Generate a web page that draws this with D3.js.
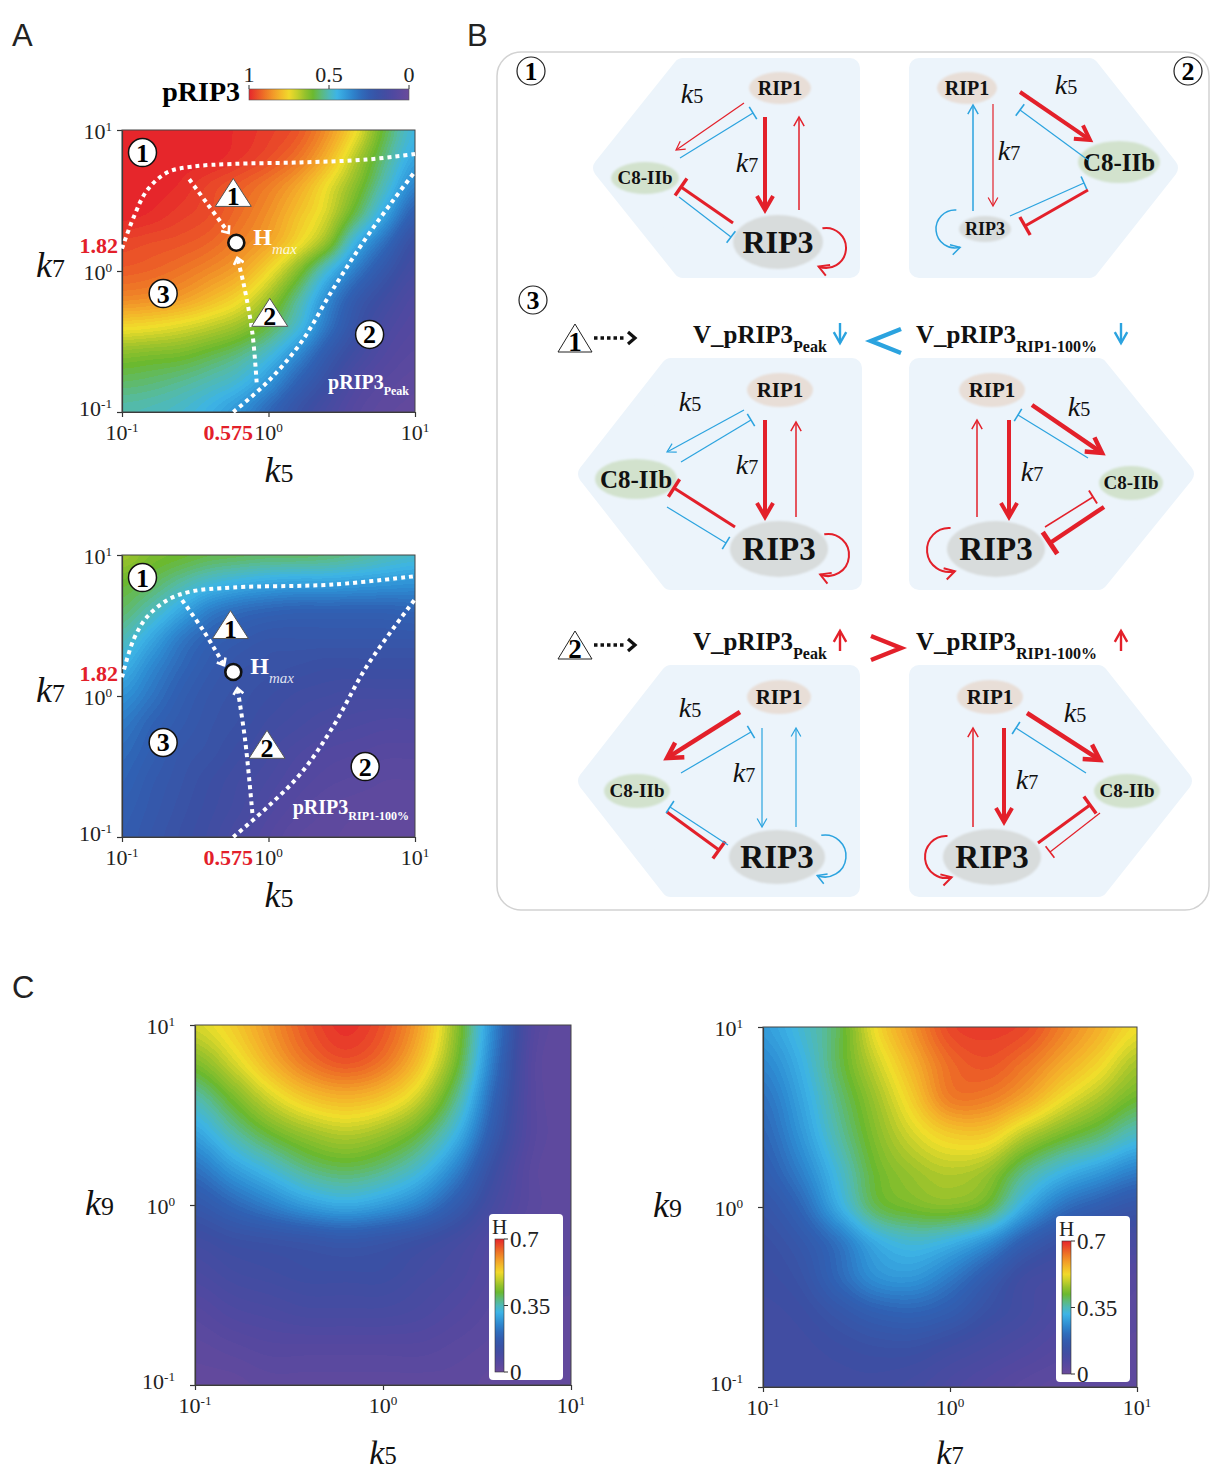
<!DOCTYPE html>
<html>
<head>
<meta charset="utf-8">
<script src="https://cdn.jsdelivr.net/npm/d3@7/dist/d3.min.js"></script>
<style>
body { margin: 0; background: #fff; }
svg { display: block; }
text { font-family: "Liberation Serif", "Times New Roman", serif; }
</style>
</head>
<body>
<svg id="fig" width="1211" height="1474"></svg>
<script>
// ---------------- data ----------------
// sample positions of every heat-map grid (both axes, log spaced 0.1 .. 10)
const gridK = [0.1, 0.158, 0.251, 0.398, 0.631, 1, 1.585, 2.512, 3.981, 6.31, 10];
const axisTicks = [0.1, 1, 10];

// A top: pRIP3 peak. rows k7 = 10 -> 0.1, columns k5 = 0.1 -> 10
const peakGrid = [
  [1.00, 1.00, 1.00, 1.00, 0.99, 0.97, 0.94, 0.86, 0.74, 0.58, 0.46],
  [1.00, 1.00, 1.00, 1.00, 0.98, 0.95, 0.90, 0.81, 0.68, 0.54, 0.42],
  [1.00, 1.00, 0.99, 0.96, 0.93, 0.89, 0.83, 0.74, 0.63, 0.49, 0.35],
  [1.00, 0.99, 0.97, 0.95, 0.91, 0.86, 0.79, 0.71, 0.57, 0.41, 0.26],
  [0.96, 0.95, 0.94, 0.92, 0.88, 0.83, 0.75, 0.64, 0.44, 0.30, 0.18],
  [0.93, 0.92, 0.90, 0.87, 0.83, 0.75, 0.63, 0.47, 0.33, 0.22, 0.14],
  [0.87, 0.86, 0.84, 0.80, 0.75, 0.66, 0.53, 0.37, 0.24, 0.16, 0.10],
  [0.75, 0.74, 0.72, 0.69, 0.65, 0.58, 0.47, 0.32, 0.20, 0.12, 0.08],
  [0.63, 0.62, 0.61, 0.58, 0.54, 0.47, 0.36, 0.24, 0.15, 0.09, 0.06],
  [0.56, 0.55, 0.53, 0.50, 0.46, 0.38, 0.27, 0.18, 0.10, 0.06, 0.04],
  [0.51, 0.50, 0.48, 0.44, 0.38, 0.29, 0.20, 0.13, 0.07, 0.04, 0.03]
];
// A bottom: pRIP3 at RIP1-100%
const rip1Grid = [
  [0.66, 0.62, 0.60, 0.58, 0.57, 0.56, 0.56, 0.55, 0.53, 0.50, 0.48],
  [0.60, 0.57, 0.52, 0.47, 0.44, 0.42, 0.41, 0.41, 0.40, 0.39, 0.38],
  [0.56, 0.50, 0.42, 0.34, 0.30, 0.28, 0.27, 0.27, 0.27, 0.27, 0.28],
  [0.50, 0.42, 0.33, 0.27, 0.24, 0.22, 0.22, 0.22, 0.22, 0.22, 0.22],
  [0.44, 0.36, 0.29, 0.24, 0.21, 0.20, 0.19, 0.18, 0.18, 0.18, 0.18],
  [0.38, 0.32, 0.26, 0.22, 0.20, 0.18, 0.16, 0.15, 0.14, 0.14, 0.14],
  [0.33, 0.28, 0.24, 0.21, 0.19, 0.16, 0.14, 0.12, 0.11, 0.10, 0.10],
  [0.30, 0.26, 0.22, 0.20, 0.17, 0.14, 0.11, 0.09, 0.08, 0.07, 0.07],
  [0.28, 0.24, 0.21, 0.18, 0.15, 0.12, 0.09, 0.07, 0.06, 0.05, 0.05],
  [0.26, 0.23, 0.20, 0.17, 0.14, 0.10, 0.07, 0.05, 0.04, 0.04, 0.04],
  [0.25, 0.22, 0.19, 0.16, 0.12, 0.08, 0.05, 0.04, 0.03, 0.03, 0.03]
];
// C left: H over (k5, k9). rows k9 = 10 -> 0.1
const hK5Grid = [
  [0.50, 0.54, 0.60, 0.66, 0.69, 0.66, 0.58, 0.44, 0.24, 0.06, 0.03],
  [0.44, 0.50, 0.57, 0.63, 0.66, 0.63, 0.55, 0.42, 0.22, 0.05, 0.03],
  [0.36, 0.43, 0.50, 0.55, 0.57, 0.55, 0.49, 0.37, 0.19, 0.05, 0.03],
  [0.29, 0.36, 0.42, 0.46, 0.48, 0.46, 0.41, 0.31, 0.16, 0.05, 0.03],
  [0.22, 0.28, 0.33, 0.38, 0.40, 0.38, 0.33, 0.24, 0.12, 0.04, 0.03],
  [0.16, 0.20, 0.24, 0.28, 0.30, 0.28, 0.24, 0.17, 0.09, 0.04, 0.03],
  [0.11, 0.13, 0.14, 0.15, 0.16, 0.15, 0.13, 0.10, 0.06, 0.03, 0.03],
  [0.08, 0.10, 0.11, 0.12, 0.12, 0.12, 0.10, 0.08, 0.05, 0.03, 0.03],
  [0.05, 0.07, 0.08, 0.09, 0.09, 0.09, 0.08, 0.06, 0.04, 0.03, 0.02],
  [0.03, 0.04, 0.05, 0.05, 0.05, 0.05, 0.05, 0.04, 0.03, 0.02, 0.02],
  [0.02, 0.02, 0.03, 0.03, 0.03, 0.03, 0.03, 0.03, 0.02, 0.02, 0.02]
];
// C right: H over (k7, k9)
const hK7Grid = [
  [0.28, 0.33, 0.40, 0.52, 0.60, 0.67, 0.68, 0.67, 0.62, 0.57, 0.52],
  [0.25, 0.31, 0.40, 0.49, 0.57, 0.64, 0.66, 0.63, 0.58, 0.53, 0.47],
  [0.22, 0.29, 0.38, 0.46, 0.54, 0.62, 0.62, 0.58, 0.52, 0.47, 0.42],
  [0.20, 0.27, 0.36, 0.44, 0.50, 0.54, 0.54, 0.48, 0.43, 0.39, 0.34],
  [0.18, 0.24, 0.33, 0.42, 0.46, 0.48, 0.46, 0.38, 0.32, 0.28, 0.24],
  [0.15, 0.20, 0.30, 0.40, 0.43, 0.44, 0.41, 0.30, 0.22, 0.18, 0.15],
  [0.13, 0.16, 0.22, 0.30, 0.33, 0.31, 0.26, 0.18, 0.13, 0.10, 0.09],
  [0.12, 0.14, 0.20, 0.26, 0.27, 0.23, 0.17, 0.11, 0.09, 0.07, 0.05],
  [0.11, 0.12, 0.15, 0.18, 0.19, 0.17, 0.13, 0.10, 0.07, 0.05, 0.04],
  [0.11, 0.11, 0.12, 0.13, 0.13, 0.11, 0.09, 0.07, 0.05, 0.04, 0.03],
  [0.11, 0.11, 0.11, 0.11, 0.10, 0.08, 0.06, 0.04, 0.03, 0.03, 0.03]
];

const pripTicks = [1, 0.5, 0];
const hTicks = [0.7, 0.35, 0];

// A overlays, points as [k5, k7]
const peakBound1 = [[0.1, 1.44], [0.12, 2.4], [0.148, 3.72], [0.204, 5.01], [0.302, 5.5], [0.575, 5.75], [1.66, 5.89], [4.68, 6.17], [10, 6.76]];
const peakBound2 = [[0.575, 0.1], [0.977, 0.162], [1.66, 0.309], [2.75, 0.741], [4.68, 1.74], [7.08, 3.16], [9.9, 5.01]];
const peakPath1 = [[0.288, 4.47], [0.38, 3.02], [0.525, 1.91]];
const peakPath2 = [[0.83, 0.162], [0.776, 0.363], [0.676, 0.813], [0.617, 1.2]];
const peakHmax = [0.603, 1.585];
const peakMarks = [["c", "1", 0.138, 6.92], ["c", "3", 0.191, 0.692], ["c", "2", 4.9, 0.355], ["t", "1", 0.575, 3.55], ["t", "2", 1.02, 0.501]];

const rip1Bound1 = [[0.1, 1.36], [0.12, 2.51], [0.148, 3.63], [0.204, 4.79], [0.295, 5.5], [0.575, 5.89], [2.75, 6.17], [10, 7.08]];
const rip1Bound2 = [[0.575, 0.1], [0.977, 0.162], [1.66, 0.282], [2.75, 0.603], [4.68, 1.62], [9.9, 4.79]];
const rip1Path1 = [[0.257, 4.79], [0.36, 2.9], [0.49, 1.7]];
const rip1Path2 = [[0.776, 0.148], [0.692, 0.49], [0.617, 1.1]];
const rip1Hmax = [0.575, 1.48];
const rip1Marks = [["c", "1", 0.138, 6.92], ["c", "3", 0.191, 0.468], ["c", "2", 4.57, 0.316], ["t", "1", 0.55, 3.16], ["t", "2", 0.977, 0.447]];

// ---------------- style ----------------
const RED = "#e3202a", BLUE = "#2ba3df";
const cmapStops = [0, 0.08, 0.18, 0.28, 0.37, 0.45, 0.52, 0.6, 0.67, 0.74, 0.82, 0.9, 1];
const cmapColors = ["#6a4a9b", "#5448a0", "#3b4fa3", "#2f62b4", "#2e8dd3", "#3db4e6", "#55bba5", "#6bb92f", "#a6c52b", "#f0df2b", "#f4ae2a", "#ee7526", "#e6262b"];
const cmap = d3.scaleLinear().domain(cmapStops).range(cmapColors).clamp(true);

const svg = d3.select("#fig");
const defs = svg.append("defs");
defs.append("filter").attr("id", "soft").append("feGaussianBlur").attr("stdDeviation", 1.3);

// panel letters
[["A", 12, 46], ["B", 467, 46], ["C", 12, 998]].forEach(([s, x, y]) =>
  svg.append("text").attr("x", x).attr("y", y).text(s).style("font-family", "Liberation Sans, Arial, sans-serif")
    .attr("font-size", 31).attr("fill", "#222"));

// ---------------- heat maps ----------------
function cubic(p0, p1, p2, p3, t) {
  return 0.5 * (2 * p1 + (-p0 + p2) * t + (2 * p0 - 5 * p1 + 4 * p2 - p3) * t * t + (-p0 + 3 * p1 - 3 * p2 + p3) * t * t * t);
}

function heat(g, grid, x, y, vmax) {
  const x0 = x.range()[0], y0 = y.range()[1];
  const w = Math.round(x.range()[1] - x0), h = Math.round(y.range()[0] - y0);
  const n = gridK.length - 1;
  const gi = d3.scaleLog().domain(d3.extent(gridK)).range([0, n]);
  const at = (r, c) => grid[Math.max(0, Math.min(n, r))][Math.max(0, Math.min(n, c))];
  const levels = 70;
  const lut = d3.range(levels + 1).map(i => d3.rgb(cmap(i / levels)));
  const cv = document.createElement("canvas");
  cv.width = w; cv.height = h;
  const ctx = cv.getContext("2d");
  const img = ctx.createImageData(w, h);
  const cols = d3.range(w).map(px => gi(x.invert(x0 + px + 0.5)));
  for (let py = 0; py < h; py++) {
    const r = n - gi(y.invert(y0 + py + 0.5));
    const r0 = Math.max(0, Math.min(n - 1, Math.floor(r))), fr = r - r0;
    for (let px = 0; px < w; px++) {
      const c = cols[px];
      const c0 = Math.max(0, Math.min(n - 1, Math.floor(c))), fc = c - c0;
      const rowv = [-1, 0, 1, 2].map(dr => cubic(at(r0 + dr, c0 - 1), at(r0 + dr, c0), at(r0 + dr, c0 + 1), at(r0 + dr, c0 + 2), fc));
      let v = cubic(rowv[0], rowv[1], rowv[2], rowv[3], fr) / vmax;
      v = Math.max(0, Math.min(1, v));
      const col = lut[Math.round(v * levels)];
      const k = (py * w + px) * 4;
      img.data[k] = col.r; img.data[k + 1] = col.g; img.data[k + 2] = col.b; img.data[k + 3] = 255;
    }
  }
  ctx.putImageData(img, 0, 0);
  g.append("image").attr("href", cv.toDataURL()).attr("x", x0).attr("y", y0)
    .attr("width", w).attr("height", h).attr("preserveAspectRatio", "none");
}

function pow(t, v) {
  const e = Math.round(Math.log10(v));
  t.append("tspan").text("10");
  t.append("tspan").attr("font-size", "0.6em").attr("dy", "-0.6em").text(e < 0 ? "-" + (-e) : String(e));
}

function kLabel(g, x, y, digit, size, anchor) {
  const t = g.append("text").attr("x", x).attr("y", y).attr("text-anchor", anchor || "start").attr("fill", "#111");
  t.append("tspan").attr("font-style", "italic").attr("font-size", size).text("k");
  t.append("tspan").attr("font-size", size * 0.72).text(digit);
}

function frame(g, x, y, ylGap) {
  const [xa, xb] = x.range(), [yb, ya] = y.range();
  g.append("g").attr("transform", `translate(0,${yb})`)
    .call(d3.axisBottom(x).tickValues(axisTicks).tickSize(5).tickSizeOuter(0).tickFormat(() => ""));
  g.append("g").attr("transform", `translate(${xa},0)`)
    .call(d3.axisLeft(y).tickValues(axisTicks).tickSize(5).tickSizeOuter(0).tickFormat(() => ""));
  g.selectAll(".domain, .tick line").attr("stroke", "#333").attr("stroke-width", 1.2);
  g.append("rect").attr("x", xa).attr("y", ya).attr("width", xb - xa).attr("height", yb - ya)
    .attr("fill", "none").attr("stroke", "#444").attr("stroke-width", 1);
  g.selectAll(null).data(axisTicks).join("text")
    .attr("x", d => x(d)).attr("y", yb + 28).attr("text-anchor", "middle")
    .attr("font-size", 22).attr("fill", "#222").each(function (d) { pow(d3.select(this), d); });
  g.selectAll(null).data(axisTicks).join("text")
    .attr("x", xa - ylGap).attr("y", d => y(d) + (d === 0.1 ? 4 : 9)).attr("text-anchor", "end")
    .attr("font-size", 22).attr("fill", "#222").each(function (d) { pow(d3.select(this), d); });
}

// ---------------- panel A ----------------
const xA = d3.scaleLog().domain([0.1, 10]).range([122, 415]);
const yA1 = d3.scaleLog().domain([0.1, 10]).range([412, 130]);
const yA2 = d3.scaleLog().domain([0.1, 10]).range([837, 555]);

// white chevron marker for the dotted arrows
defs.append("marker").attr("id", "wchev").attr("viewBox", "-6 -6 12 12").attr("markerWidth", 12).attr("markerHeight", 12)
  .attr("markerUnits", "userSpaceOnUse").attr("orient", "auto")
  .append("path").attr("d", "M-4,-5 Q1,-1 2,0 Q1,1 -4,5").attr("fill", "none").attr("stroke", "#fff").attr("stroke-width", 2.6);

function panelA(cfg) {
  const g = svg.append("g");
  const x = xA, y = cfg.y;
  heat(g, cfg.grid, x, y, 1);
  frame(g, x, y, 10);
  const line = d3.line().x(d => x(d[0])).y(d => y(d[1])).curve(d3.curveCatmullRom.alpha(0.5));
  [cfg.b1, cfg.b2].forEach(pts => g.append("path").attr("d", line(pts)).attr("fill", "none")
    .attr("stroke", "#fff").attr("stroke-width", 4).attr("stroke-dasharray", "4 4"));
  [cfg.p1, cfg.p2].forEach(pts => g.append("path").attr("d", line(pts)).attr("fill", "none")
    .attr("stroke", "#fff").attr("stroke-width", 4).attr("stroke-dasharray", "4 4").attr("marker-end", "url(#wchev)"));
  g.append("circle").attr("cx", x(cfg.hmax[0])).attr("cy", y(cfg.hmax[1])).attr("r", 8)
    .attr("fill", "#fff").attr("stroke", "#111").attr("stroke-width", 2.6);
  const ht = g.append("text").attr("x", x(cfg.hmax[0]) + 17).attr("y", y(cfg.hmax[1]) + 2)
    .attr("fill", "#fff").attr("font-weight", "bold").attr("font-size", 24);
  ht.append("tspan").text("H");
  ht.append("tspan").attr("dy", 9).attr("font-size", 15).attr("font-weight", "normal").attr("font-style", "italic").attr("fill-opacity", 0.85).text("max");
  cfg.marks.forEach(([kind, num, a, b]) => {
    const cx = x(a), cy = y(b);
    if (kind === "c") {
      g.append("circle").attr("cx", cx).attr("cy", cy).attr("r", 14).attr("fill", "#fff").attr("stroke", "#111").attr("stroke-width", 1.5);
      g.append("text").attr("x", cx).attr("y", cy + 9).attr("text-anchor", "middle").attr("font-weight", "bold").attr("font-size", 26).text(num);
    } else {
      g.append("path").attr("d", `M${cx},${cy - 15}L${cx + 18},${cy + 13}L${cx - 18},${cy + 13}Z`).attr("fill", "#fff").attr("stroke", "#555").attr("stroke-width", 1);
      g.append("text").attr("x", cx).attr("y", cy + 12).attr("text-anchor", "middle").attr("font-weight", "bold").attr("font-size", 26).text(num);
    }
  });
  const lab = g.append("text").attr("x", x.range()[1] - 6).attr("y", y.range()[0] - 23).attr("text-anchor", "end")
    .attr("fill", "#fff").attr("font-weight", "bold").attr("font-size", 20);
  lab.append("tspan").text("pRIP3");
  lab.append("tspan").attr("dy", 6).attr("font-size", 12).text(cfg.sub);
  // red critical values
  g.append("text").attr("x", x.range()[0] - 4).attr("y", y(cfg.b1[0][1]) + 4).attr("text-anchor", "end")
    .attr("fill", RED).attr("font-weight", "bold").attr("font-size", 22).text("1.82");
  g.append("text").attr("x", x(cfg.b2[0][0]) - 5).attr("y", y.range()[0] + 28).attr("text-anchor", "middle")
    .attr("fill", RED).attr("font-weight", "bold").attr("font-size", 22).text("0.575");
  kLabel(g, 36, y(1) + 6, "7", 36);
  kLabel(g, 279, y.range()[0] + 70, "5", 36, "middle");
}

panelA({ grid: peakGrid, y: yA1, b1: peakBound1, b2: peakBound2, p1: peakPath1, p2: peakPath2, hmax: peakHmax, marks: peakMarks, sub: "Peak" });
panelA({ grid: rip1Grid, y: yA2, b1: rip1Bound1, b2: rip1Bound2, p1: rip1Path1, p2: rip1Path2, hmax: rip1Hmax, marks: rip1Marks, sub: "RIP1-100%" });

// horizontal pRIP3 colour bar
const gradH = defs.append("linearGradient").attr("id", "gradH").attr("x1", 0).attr("x2", 1).attr("y1", 0).attr("y2", 0);
d3.range(0, 1.0001, 0.05).forEach(t => gradH.append("stop").attr("offset", t).attr("stop-color", cmap(1 - t)));
const pScale = d3.scaleLinear().domain([1, 0]).range([249, 409]);
svg.append("rect").attr("x", 249).attr("y", 89).attr("width", 160).attr("height", 11).attr("fill", "url(#gradH)").attr("stroke", "#555").attr("stroke-width", 0.6);
svg.selectAll(null).data(pripTicks).join("text").attr("x", d => pScale(d)).attr("y", 82).attr("text-anchor", "middle")
  .attr("font-size", 22).attr("fill", "#222").text(d => d);
svg.selectAll(null).data(pripTicks).join("line").attr("x1", d => pScale(d)).attr("x2", d => pScale(d)).attr("y1", 85).attr("y2", 89).attr("stroke", "#333");
svg.append("text").attr("x", 240).attr("y", 101).attr("text-anchor", "end").attr("font-weight", "bold").attr("font-size", 28).text("pRIP3");

// ---------------- panel C ----------------
const xC1 = d3.scaleLog().domain([0.1, 10]).range([195, 571]);
const yC1 = d3.scaleLog().domain([0.1, 10]).range([1385, 1025]);
const xC2 = d3.scaleLog().domain([0.1, 10]).range([763, 1137]);
const yC2 = d3.scaleLog().domain([0.1, 10]).range([1387, 1027]);

const gradV = defs.append("linearGradient").attr("id", "gradV").attr("x1", 0).attr("x2", 0).attr("y1", 1).attr("y2", 0);
d3.range(0, 1.0001, 0.05).forEach(t => gradV.append("stop").attr("offset", t).attr("stop-color", cmap(t)));

function panelC(grid, x, y, xd, bx) {
  const g = svg.append("g");
  heat(g, grid, x, y, 0.7);
  frame(g, x, y, 20);
  kLabel(g, x.range()[0] - 110, y(1) + 10, "9", 36);
  kLabel(g, (x.range()[0] + x.range()[1]) / 2, 1464, xd, 34, "middle");
  // legend box
  const top = y.range()[1] + 189, bot = y.range()[0] - 5;
  g.append("rect").attr("x", bx).attr("y", top).attr("width", 74).attr("height", bot - top).attr("rx", 4).attr("fill", "#fff");
  const hs = d3.scaleLinear().domain([0, 0.7]).range([bot - 8, top + 25]);
  g.append("rect").attr("x", bx + 6).attr("y", hs(0.7)).attr("width", 9).attr("height", hs(0) - hs(0.7)).attr("fill", "url(#gradV)")
    .attr("stroke", "#333").attr("stroke-width", 0.6);
  g.selectAll(null).data(hTicks).join("line").attr("x1", bx + 15).attr("x2", bx + 19).attr("y1", d => hs(d)).attr("y2", d => hs(d)).attr("stroke", "#333");
  g.selectAll(null).data(hTicks).join("text").attr("x", bx + 21).attr("y", d => hs(d) + 8).attr("font-size", 23).attr("fill", "#222").text(d => d);
  g.append("text").attr("x", bx + 3).attr("y", top + 20).attr("font-size", 21).attr("fill", "#222").text("H");
}
panelC(hK5Grid, xC1, yC1, "5", 489);
panelC(hK7Grid, xC2, yC2, "7", 1056);

// ---------------- panel B: network schematics ----------------
svg.append("rect").attr("x", 497).attr("y", 52).attr("width", 712).attr("height", 858).attr("rx", 24)
  .attr("fill", "none").attr("stroke", "#d2d2d2").attr("stroke-width", 1.5);

const diagrams = [
  { bg: { side: "L", tip: 590, sh: 679, edge: 860, y0: 58, y1: 278 },
    nodes: [["RIP1", 780, 88, 31, 16, 20], ["C8-IIb", 645, 178, 34, 16, 19], ["RIP3", 778, 242, 45, 27, 32]],
    ks: [[692, 103, "5"], [747, 172, "7"]],
    edges: [[744, 103, 676, 150, "r", 1.2, "a"], [680, 158, 753, 113, "b", 1.2, "t"], [765, 117, 765, 210, "r", 4, "a"],
      [799, 210, 799, 117, "r", 1.5, "a"], [733, 223, 681, 187, "r", 3, "t"], [679, 197, 731, 237, "b", 1.2, "t"]],
    loops: [[826, 248, 20, "R", "r", 2]] },
  { bg: { side: "R", tip: 1181, sh: 1093, edge: 909, y0: 58, y1: 278 },
    nodes: [["RIP1", 967, 88, 30, 16, 20], ["C8-IIb", 1119, 162, 41, 21, 25], ["RIP3", 985, 229, 26, 13, 18]],
    ks: [[1066, 94, "5"], [1009, 160, "7"]],
    edges: [[1020, 92, 1090, 140, "r", 4, "a"], [1088, 160, 1020, 110, "b", 1.2, "t"], [993, 104, 993, 206, "r", 1.2, "a"],
      [973, 211, 973, 105, "b", 1.5, "a"], [1010, 216, 1084, 183, "b", 1.2, "t"], [1088, 190, 1025, 226, "r", 3, "t"]],
    loops: [[955, 229, 19, "L", "b", 1.5]] },
  { bg: { side: "L", tip: 575, sh: 667, edge: 862, y0: 358, y1: 590 },
    nodes: [["RIP1", 780, 390, 33, 17, 21], ["C8-IIb", 636, 479, 41, 20, 25], ["RIP3", 779, 549, 49, 28, 33]],
    ks: [[690, 411, "5"], [747, 474, "7"]],
    edges: [[744, 410, 667, 452, "b", 1.2, "a"], [681, 462, 751, 420, "b", 1.2, "t"], [765, 420, 765, 517, "r", 4, "a"],
      [796, 517, 796, 422, "r", 1.5, "a"], [735, 527, 674, 488, "r", 3, "t"], [667, 507, 726, 543, "b", 1.2, "t"]],
    loops: [[828, 555, 21, "R", "r", 2]] },
  { bg: { side: "R", tip: 1197, sh: 1102, edge: 909, y0: 358, y1: 590 },
    nodes: [["RIP1", 992, 390, 33, 17, 21], ["C8-IIb", 1131, 483, 32, 17, 19], ["RIP3", 996, 549, 49, 28, 33]],
    ks: [[1079, 416, "5"], [1032, 481, "7"]],
    edges: [[1032, 405, 1102, 453, "r", 4.5, "a"], [1088, 458, 1018, 415, "b", 1.2, "t"], [977, 517, 977, 420, "r", 1.5, "a"],
      [1009, 420, 1009, 517, "r", 4, "a"], [1045, 527, 1093, 497, "r", 1.5, "t"], [1104, 507, 1050, 543, "r", 4.5, "t"]],
    loops: [[949, 550, 22, "L", "r", 2]] },
  { bg: { side: "L", tip: 575, sh: 667, edge: 860, y0: 665, y1: 897 },
    nodes: [["RIP1", 779, 697, 32, 17, 21], ["C8-IIb", 637, 791, 33, 17, 19], ["RIP3", 777, 857, 48, 27, 33]],
    ks: [[690, 717, "5"], [744, 782, "7"]],
    edges: [[740, 712, 667, 758, "r", 4.5, "a"], [681, 773, 751, 732, "b", 1.2, "t"], [762, 728, 762, 827, "b", 1.2, "a"],
      [796, 827, 796, 728, "b", 1.2, "a"], [667, 812, 719, 850, "r", 3, "t"], [728, 845, 670, 807, "b", 1.2, "t"]],
    loops: [[825, 856, 21, "R", "b", 1.5]] },
  { bg: { side: "R", tip: 1195, sh: 1102, edge: 909, y0: 665, y1: 897 },
    nodes: [["RIP1", 990, 697, 33, 17, 21], ["C8-IIb", 1127, 791, 33, 17, 19], ["RIP3", 992, 857, 49, 28, 33]],
    ks: [[1075, 722, "5"], [1027, 789, "7"]],
    edges: [[1027, 713, 1100, 760, "r", 4.5, "a"], [1086, 773, 1016, 728, "b", 1.2, "t"], [973, 827, 973, 728, "r", 1.5, "a"],
      [1004, 728, 1004, 822, "r", 4, "a"], [1038, 843, 1090, 805, "r", 3, "t"], [1100, 813, 1050, 852, "r", 1.2, "t"]],
    loops: [[946, 857, 21, "L", "r", 2]] }
];

const nodeFill = { "RIP1": "#e8ded7", "C8-IIb": "#d2e2cd", "RIP3": "#d8dcdc" };

function head(g, x, y, a, w, col, kind) {
  if (kind === "a") {
    const L = 7 + w * 2.3, s = 0.52;
    g.append("path").attr("d", `M${x - L * Math.cos(a - s)},${y - L * Math.sin(a - s)}L${x},${y}L${x - L * Math.cos(a + s)},${y - L * Math.sin(a + s)}`)
      .attr("fill", "none").attr("stroke", col).attr("stroke-width", w).attr("stroke-linejoin", "miter");
  } else {
    const L = 5 + w * 1.8, px = -Math.sin(a), py = Math.cos(a);
    g.append("line").attr("x1", x + px * L).attr("y1", y + py * L).attr("x2", x - px * L).attr("y2", y - py * L)
      .attr("stroke", col).attr("stroke-width", w + 0.4);
  }
}

function drawDiagram(d) {
  const g = svg.append("g");
  const b = d.bg, ym = (b.y0 + b.y1) / 2, i = 10;
  const sgn = b.side === "L" ? 1 : -1;
  const pts = [[b.edge - sgn * i, b.y0 + i], [b.sh + sgn * 4, b.y0 + i], [b.tip + sgn * 13, ym], [b.sh + sgn * 4, b.y1 - i], [b.edge - sgn * i, b.y1 - i]];
  g.append("path").attr("d", d3.line()(pts) + "Z").attr("fill", "#ecf4fb").attr("stroke", "#ecf4fb")
    .attr("stroke-width", 2 * i).attr("stroke-linejoin", "round");
  d.nodes.forEach(([name, x, y, rx, ry, fs]) => {
    g.append("ellipse").attr("cx", x).attr("cy", y).attr("rx", rx).attr("ry", ry).attr("fill", nodeFill[name]).attr("filter", "url(#soft)");
    g.append("text").attr("x", x).attr("y", y + fs * 0.34).attr("text-anchor", "middle").attr("font-weight", "bold")
      .attr("font-size", fs).attr("fill", "#111").text(name);
  });
  d.edges.forEach(([x1, y1, x2, y2, c, w, kind]) => {
    const col = c === "r" ? RED : BLUE, a = Math.atan2(y2 - y1, x2 - x1);
    const back = kind === "a" ? w * 0.9 : 0;
    g.append("line").attr("x1", x1).attr("y1", y1).attr("x2", x2 - back * Math.cos(a)).attr("y2", y2 - back * Math.sin(a))
      .attr("stroke", col).attr("stroke-width", w);
    head(g, x2, y2, a, w, col, kind);
  });
  d.loops.forEach(([cx, cy, r, side, c, w]) => {
    const col = c === "r" ? RED : BLUE;
    const p = d3.path();
    let a0, a1, ccw;
    if (side === "R") { a0 = -1.75; a1 = 1.95; ccw = false; } else { a0 = -1.5; a1 = 1.3; ccw = true; }
    p.moveTo(cx + r * Math.cos(a0), cy + r * Math.sin(a0));
    p.arc(cx, cy, r, a0, a1, ccw);
    g.append("path").attr("d", p.toString()).attr("fill", "none").attr("stroke", col).attr("stroke-width", w);
    const ex = cx + r * Math.cos(a1), ey = cy + r * Math.sin(a1);
    const dir = ccw ? Math.atan2(-Math.cos(a1), Math.sin(a1)) : Math.atan2(Math.cos(a1), -Math.sin(a1));
    head(g, ex, ey, dir, w, col, "a");
  });
  d.ks.forEach(([x, y, n]) => kLabel(g, x, y, n, 28, "middle"));
}
diagrams.forEach(drawDiagram);

// circled region numbers in B
[[531, 71, "1"], [1188, 71, "2"], [533, 300, "3"]].forEach(([x, y, n]) => {
  svg.append("circle").attr("cx", x).attr("cy", y).attr("r", 14).attr("fill", "#fff").attr("stroke", "#222").attr("stroke-width", 1.2);
  svg.append("text").attr("x", x).attr("y", y + 9).attr("text-anchor", "middle").attr("font-weight", "bold").attr("font-size", 26).text(n);
});

// comparison headers
function header(y, num, col, sym, up) {
  const g = svg.append("g");
  g.append("path").attr("d", `M575,${y - 16}L592,${y + 12}L558,${y + 12}Z`).attr("fill", "#fff").attr("stroke", "#222").attr("stroke-width", 1);
  g.append("text").attr("x", 575).attr("y", y + 11).attr("text-anchor", "middle").attr("font-weight", "bold").attr("font-size", 27).text(num);
  g.append("line").attr("x1", 594).attr("x2", 626).attr("y1", y - 2).attr("y2", y - 2).attr("stroke", "#111").attr("stroke-width", 3.5).attr("stroke-dasharray", "3.5 3");
  g.append("path").attr("d", `M628,${y - 8}L635,${y - 2}L628,${y + 4}`).attr("fill", "none").attr("stroke", "#111").attr("stroke-width", 3.2);
  [[693, "Peak", 840], [916, "RIP1-100%", 1121]].forEach(([x, sub, ax]) => {
    const t = g.append("text").attr("x", x).attr("y", y + 3).attr("font-weight", "bold").attr("font-size", 25).attr("fill", "#111");
    t.append("tspan").text("V_pRIP3");
    t.append("tspan").attr("dy", 9).attr("font-size", 16).text(sub);
    const ya = up ? y + 4 : y - 17, yb = up ? y - 16 : y + 3;
    g.append("line").attr("x1", ax).attr("x2", ax).attr("y1", ya).attr("y2", yb).attr("stroke", col).attr("stroke-width", 2.4);
    head(g, ax, yb, up ? -Math.PI / 2 : Math.PI / 2, 2.4, col, "a");
  });
  const sx = 886;
  const d = sym === "<" ? `M${sx + 15},${y - 11}L${sx - 15},${y + 1}L${sx + 15},${y + 13}` : `M${sx - 15},${y - 11}L${sx + 15},${y + 1}L${sx - 15},${y + 13}`;
  g.append("path").attr("d", d).attr("fill", "none").attr("stroke", col).attr("stroke-width", 4.5);
}
header(340, "1", BLUE, "<", false);
header(647, "2", RED, ">", true);
</script>
</body>
</html>
